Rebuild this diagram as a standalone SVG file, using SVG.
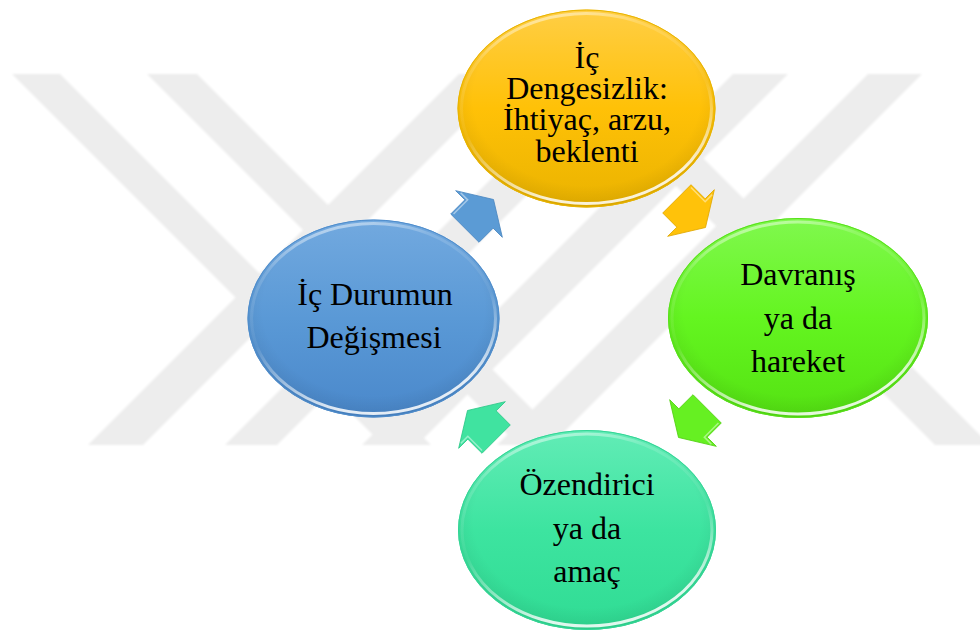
<svg xmlns="http://www.w3.org/2000/svg" width="980" height="630" viewBox="0 0 980 630">
  <defs>
    <filter id="soft" x="-5%" y="-5%" width="110%" height="110%">
      <feGaussianBlur stdDeviation="0.8"/>
    </filter>
    <linearGradient id="gY" x1="0" y1="0" x2="0" y2="1">
      <stop offset="0" stop-color="#FFCE45"/>
      <stop offset="0.5" stop-color="#FFC107"/>
      <stop offset="1" stop-color="#EAB300"/>
    </linearGradient>
    <linearGradient id="gG" x1="0" y1="0" x2="0" y2="1">
      <stop offset="0" stop-color="#80F84E"/>
      <stop offset="0.5" stop-color="#64F520"/>
      <stop offset="1" stop-color="#54E212"/>
    </linearGradient>
    <linearGradient id="gT" x1="0" y1="0" x2="0" y2="1">
      <stop offset="0" stop-color="#62ECB6"/>
      <stop offset="0.5" stop-color="#3DE4A0"/>
      <stop offset="1" stop-color="#30DC94"/>
    </linearGradient>
    <linearGradient id="gB" x1="0" y1="0" x2="0" y2="1">
      <stop offset="0" stop-color="#72A9DF"/>
      <stop offset="0.5" stop-color="#5A99D6"/>
      <stop offset="1" stop-color="#4A88CB"/>
    </linearGradient>
    <linearGradient id="rim" x1="0" y1="0" x2="0.3" y2="1">
      <stop offset="0" stop-color="#FFFFFF" stop-opacity="0.75"/>
      <stop offset="0.25" stop-color="#FFFFFF" stop-opacity="0.15"/>
      <stop offset="0.6" stop-color="#FFFFFF" stop-opacity="0.05"/>
      <stop offset="1" stop-color="#FFFFFF" stop-opacity="0.85"/>
    </linearGradient>
    <radialGradient id="shade" cx="0.5" cy="0.45" r="0.55">
      <stop offset="0.8" stop-color="#000000" stop-opacity="0"/>
      <stop offset="1" stop-color="#000000" stop-opacity="0.08"/>
    </radialGradient>
    <path id="arw" d="M -20 -20 L 0 -20 L 0 -33 L 20.5 0 L 0 33 L 0 20 L -20 20 Z"/>
  </defs>
  <style>
    .lbl { font-size: 32px; fill: #000000; text-anchor: middle; }
    .wm { fill: #EDEDED; }
    .rimline { fill: none; stroke: url(#rim); stroke-width: 3; }
    .edge { fill: none; stroke-width: 1; }
    .ahi { fill: none; stroke: #FFFFFF; stroke-opacity: 0.45; stroke-width: 1.5; }
  </style>
  <rect x="0" y="0" width="980" height="630" fill="#FFFFFF"/>

  <g id="watermark" filter="url(#soft)">
    <polygon class="wm" points="12,74 60,74 431,445 383,445"/>
    <polygon class="wm" points="147,74 197,74 568,445 518,445"/>
    <polygon class="wm" points="564,74 619,74 990,445 935,445"/>
    <polygon class="wm" points="459,74 514,74 143,445 88,445"/>
    <polygon class="wm" points="596,74 648,74 277,445 225,445"/>
    <polygon class="wm" points="733,74 788,74 417,445 362,445"/>
    <polygon class="wm" points="868,74 922,74 551,445 497,445"/>
  </g>

  <g id="connectors">
    <g id="arrow-blue-yellow" transform="translate(479,214) rotate(-45)">
      <use href="#arw" fill="#5B9BD5" stroke="#4A86C0" stroke-width="0.8"/>
      <path class="ahi" d="M -18 -18 L 2 -18 L 2 -28"/>
    </g>
    <g id="arrow-yellow-green" transform="translate(691,213) rotate(45)">
      <use href="#arw" fill="#FFC20A" stroke="#E0A800" stroke-width="0.8"/>
      <path class="ahi" d="M -18 -18 L 2 -18 L 2 -28"/>
    </g>
    <g id="arrow-green-teal" transform="translate(693,423) rotate(135)">
      <use href="#arw" fill="#66F022" stroke="#50D010" stroke-width="0.8"/>
      <path class="ahi" d="M -18 -18 L 2 -18 L 2 -28"/>
    </g>
    <g id="arrow-teal-blue" transform="translate(482,425) rotate(-135)">
      <use href="#arw" fill="#40E3A0" stroke="#2CC888" stroke-width="0.8"/>
      <path class="ahi" d="M -18 -18 L 2 -18 L 2 -28"/>
    </g>
  </g>

  <g id="node-yellow">
    <ellipse cx="586.5" cy="108.5" rx="129" ry="99" fill="url(#gY)"/>
    <ellipse cx="586.5" cy="108.5" rx="129" ry="99" fill="url(#shade)"/>
    <ellipse class="rimline" cx="586.5" cy="108.5" rx="125" ry="95"/>
    <ellipse class="edge" cx="586.5" cy="108.5" rx="128.5" ry="98.5" stroke="#E8B400"/>
    <g font-family="'Liberation Serif', 'DejaVu Serif', serif">
      <text class="lbl" x="587" y="68" font-size="31">İç</text>
      <text class="lbl" x="587" y="99" font-size="31">Dengesizlik:</text>
      <text class="lbl" x="587" y="130" font-size="31">İhtiyaç, arzu,</text>
      <text class="lbl" x="587" y="162" font-size="31">beklenti</text>
    </g>
  </g>

  <g id="node-green">
    <ellipse cx="798" cy="318" rx="130" ry="100" fill="url(#gG)"/>
    <ellipse cx="798" cy="318" rx="130" ry="100" fill="url(#shade)"/>
    <ellipse class="rimline" cx="798" cy="318" rx="126" ry="96"/>
    <ellipse class="edge" cx="798" cy="318" rx="129.5" ry="99.5" stroke="#58E01A"/>
    <g font-family="'Liberation Serif', 'DejaVu Serif', serif">
      <text class="lbl" x="798" y="285">Davranış</text>
      <text class="lbl" x="798" y="329">ya da</text>
      <text class="lbl" x="798" y="372">hareket</text>
    </g>
  </g>

  <g id="node-teal">
    <ellipse cx="587" cy="530" rx="129" ry="100" fill="url(#gT)"/>
    <ellipse cx="587" cy="530" rx="129" ry="100" fill="url(#shade)"/>
    <ellipse class="rimline" cx="587" cy="530" rx="125" ry="96"/>
    <ellipse class="edge" cx="587" cy="530" rx="128.5" ry="99.5" stroke="#34D596"/>
    <g font-family="'Liberation Serif', 'DejaVu Serif', serif">
      <text class="lbl" x="587" y="495">Özendirici</text>
      <text class="lbl" x="587" y="539">ya da</text>
      <text class="lbl" x="587" y="582">amaç</text>
    </g>
  </g>

  <g id="node-blue">
    <ellipse cx="373.5" cy="318.5" rx="126" ry="99" fill="url(#gB)"/>
    <ellipse cx="373.5" cy="318.5" rx="126" ry="99" fill="url(#shade)"/>
    <ellipse class="rimline" cx="373.5" cy="318.5" rx="122" ry="95"/>
    <ellipse class="edge" cx="373.5" cy="318.5" rx="125.5" ry="98.5" stroke="#4F8DCC"/>
    <g font-family="'Liberation Serif', 'DejaVu Serif', serif">
      <text class="lbl" x="375" y="305">İç Durumun</text>
      <text class="lbl" x="374" y="348">Değişmesi</text>
    </g>
  </g>
</svg>
